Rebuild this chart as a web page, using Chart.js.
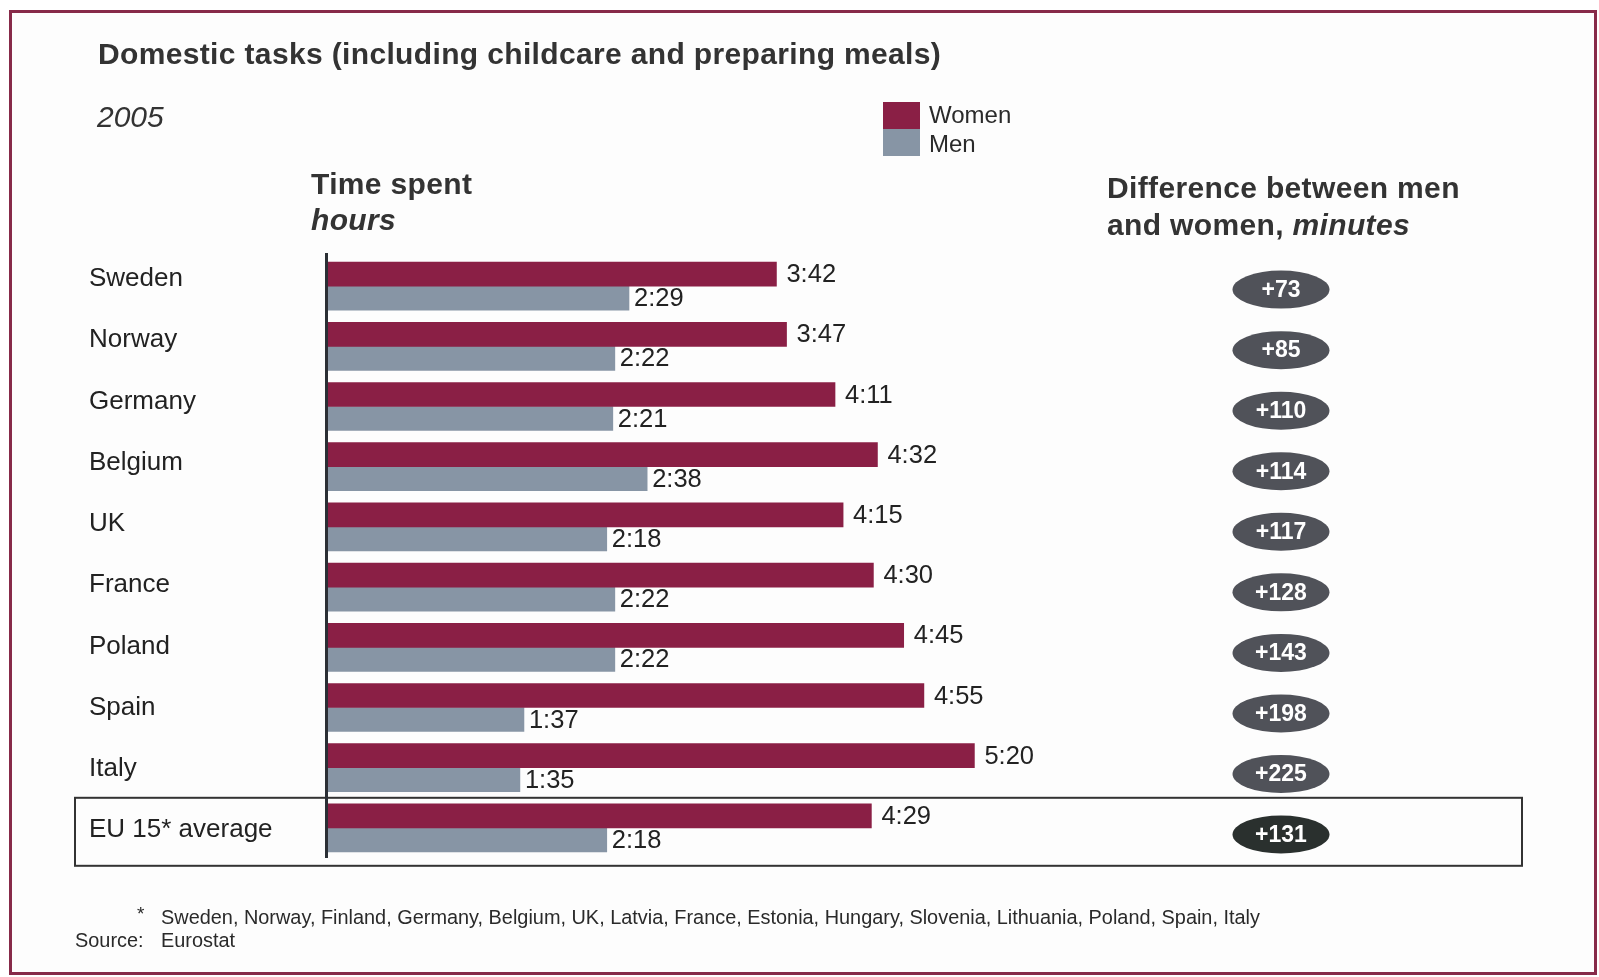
<!DOCTYPE html>
<html>
<head>
<meta charset="utf-8">
<title>Domestic tasks</title>
<script src="https://cdn.jsdelivr.net/npm/chart.js@4.4.1/dist/chart.umd.min.js"></script>
<style>
  html, body { margin: 0; padding: 0; background: #fff; }
  body { width: 1599px; height: 977px; position: relative; overflow: hidden;
         font-family: "Liberation Sans", Arial, sans-serif; color: #2a2a2a; }
  #frame { position: absolute; left: 9px; top: 10px; width: 1588px; height: 965px;
           box-sizing: border-box; border: 3px solid #872a49; background: #fdfdfd; }
  #chart { position: absolute; left: 0; top: 0; }
  .t { position: absolute; white-space: nowrap; line-height: 1; }
  .b { font-weight: bold; }
  .i { font-style: italic; }
  .h { font-size: 30px; letter-spacing: 0.35px; color: #333; }
  .sw { position: absolute; left: 883px; width: 37px; }
</style>
</head>
<body>
<div id="frame"></div>
<canvas id="chart" width="1599" height="977"></canvas>

<div class="t b h" style="left:98px; top:39px;">Domestic tasks (including childcare and preparing meals)</div>
<div class="t i" style="left:97px; top:102px; font-size:30px; color:#333;">2005</div>

<div class="sw" style="top:102px; height:27px; background:#8a1f45;"></div>
<div class="sw" style="top:129px; height:27px; background:#8795a5;"></div>
<div class="t" style="left:929px; top:103px; font-size:24px;">Women</div>
<div class="t" style="left:929px; top:132px; font-size:24px;">Men</div>

<div class="t b h" style="left:311px; top:169px;">Time spent</div>
<div class="t b i h" style="left:311px; top:205px;">hours</div>

<div class="t b h" style="left:1107px; top:173px;">Difference between men</div>
<div class="t b h" style="left:1107px; top:210px;">and women, <span class="i">minutes</span></div>

<div class="t" style="left:137px; top:904px; font-size:19px;">*</div>
<div class="t" style="left:161px; top:908px; font-size:19.9px;">Sweden, Norway, Finland, Germany, Belgium, UK, Latvia, France, Estonia, Hungary, Slovenia, Lithuania, Poland, Spain, Italy</div>
<div class="t" style="left:75px; top:931px; font-size:19.9px;">Source:</div>
<div class="t" style="left:161px; top:931px; font-size:19.9px;">Eurostat</div>

<script>
// values, in minutes
const categories = ['Sweden', 'Norway', 'Germany', 'Belgium', 'UK', 'France', 'Poland', 'Spain', 'Italy', 'EU 15* average'];
const women = [222, 227, 251, 272, 255, 270, 285, 295, 320, 269];
const men = [149, 142, 141, 158, 138, 142, 142, 97, 95, 138];
const difference = [73, 85, 110, 114, 117, 128, 143, 198, 225, 131];

const womenColor = '#8a1f45';
const menColor = '#8795a5';

function fmt(m) {
    const mm = m % 60;
    return Math.floor(m / 60) + ':' + (mm < 10 ? '0' : '') + mm;
}

// axis line, value labels, country names, difference ovals, EU box
const overlay = {
    id: 'overlay',
    beforeDatasetsDraw(chart) {
        const { ctx, scales: { y } } = chart;
        const last = categories.length - 1;
        const top = (y.getPixelForValue(last - 1) + y.getPixelForValue(last)) / 2;
        ctx.save();
        ctx.strokeStyle = '#333';
        ctx.lineWidth = 2;
        ctx.strokeRect(75, top, 1447, 68);
        ctx.restore();
    },
    afterDatasetsDraw(chart) {
        const { ctx, chartArea, scales: { y } } = chart;
        ctx.save();

        ctx.strokeStyle = '#2b2f35';
        ctx.lineWidth = 3;
        ctx.beginPath();
        ctx.moveTo(chartArea.left - 1.5, chartArea.top - 3);
        ctx.lineTo(chartArea.left - 1.5, chartArea.bottom);
        ctx.stroke();

        ctx.fillStyle = '#222';
        ctx.textBaseline = 'middle';
        ctx.font = '25.5px "Liberation Sans", Arial, sans-serif';
        chart.data.datasets.forEach((ds, di) => {
            chart.getDatasetMeta(di).data.forEach((bar, i) => {
                ctx.fillText(fmt(ds.data[i]), bar.x + (di === 0 ? 10 : 5), bar.y + 1);
            });
        });

        // the country names sit on a slightly wider pitch than the bars
        ctx.font = '26px "Liberation Sans", Arial, sans-serif';
        categories.forEach((c, i) => {
            ctx.fillText(c, 89, y.getPixelForValue(i) - 7 + i * 1.02);
        });

        ctx.textAlign = 'center';
        ctx.font = 'bold 23px "Liberation Sans", Arial, sans-serif';
        difference.forEach((d, i) => {
            const cy = y.getPixelForValue(i) + 3.5 + i * 0.35;
            ctx.fillStyle = i === difference.length - 1 ? '#2a302e' : '#505259';
            ctx.beginPath();
            ctx.ellipse(1281, cy, 48.5, 19, 0, 0, Math.PI * 2);
            ctx.fill();
            ctx.fillStyle = '#fff';
            ctx.fillText('+' + d, 1281, cy + 1);
        });
        ctx.restore();
    }
};

const ctxChart = document.getElementById('chart').getContext('2d');
const chart = new Chart(ctxChart, {
    type: 'bar',
    data: {
        labels: categories,
        datasets: [{
            label: 'Women',
            data: women,
            backgroundColor: womenColor,
            barThickness: 24
        }, {
            label: 'Men',
            data: men,
            backgroundColor: menColor,
            barThickness: 24
        }]
    },
    options: {
        indexAxis: 'y',
        responsive: false,
        animation: false,
        layout: {
            padding: { left: 328, top: 256, right: 463, bottom: 119 }
        },
        scales: {
            x: { display: false, min: 0, max: 400 },
            y: { display: false }
        },
        plugins: {
            legend: { display: false },
            tooltip: { enabled: false }
        }
    },
    plugins: [overlay]
});
</script>
</body>
</html>
